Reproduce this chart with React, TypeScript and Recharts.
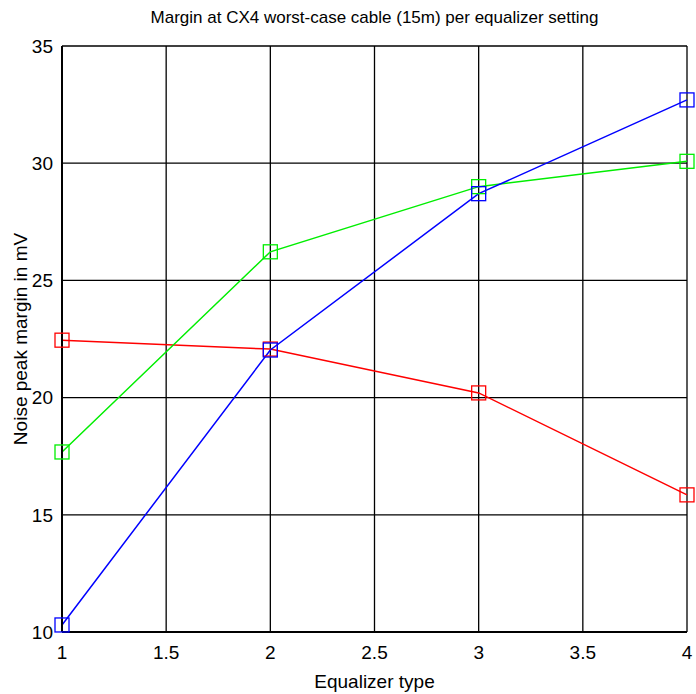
import { LineChart, Line, XAxis, YAxis, CartesianGrid, Label } from "recharts";

// equalizer settings on the x axis
const equalizerTypes = [1, 2, 3, 4];
// noise peak margin (mV) per series
const redMargin = [22.45, 22.07, 20.2, 15.85];
const greenMargin = [17.68, 26.22, 29.0, 30.08];
const blueMargin = [10.3, 22.03, 28.7, 32.7];

const xTicks = [1, 1.5, 2, 2.5, 3, 3.5, 4];
const yTicks = [10, 15, 20, 25, 30, 35];

const data = equalizerTypes.map((eq, i) => ({
  eq,
  red: redMargin[i],
  green: greenMargin[i],
  blue: blueMargin[i],
}));

const FONT = "'Liberation Sans Narrow', 'Liberation Sans', Arial, sans-serif";

const squareDot = (color: string) => (props: any) => {
  const { cx, cy, index } = props;
  if (cx == null || cy == null) return <g key={index} />;
  return (
    <rect
      key={index}
      x={cx - 7}
      y={cy - 7}
      width={14}
      height={14}
      fill="none"
      stroke={color}
      strokeWidth={1.3}
    />
  );
};

export default function App() {
  return (
    <div style={{ position: "absolute", left: 0, top: 0, width: 696, height: 694, background: "#fff" }}>
      <div
        style={{
          position: "absolute",
          top: 8,
          left: 62,
          width: 625,
          textAlign: "center",
          fontFamily: FONT,
          fontSize: 17,
          color: "#000",
        }}
      >
        Margin at CX4 worst-case cable (15m) per equalizer setting
      </div>
      <LineChart
        width={696}
        height={694}
        data={data}
        margin={{ top: 46, right: 9, bottom: 0, left: 0 }}
      >
        <CartesianGrid stroke="#000" strokeWidth={1.3} horizontalValues={yTicks} verticalValues={xTicks} />
        <XAxis
          dataKey="eq"
          type="number"
          domain={[1, 4]}
          ticks={xTicks}
          height={62}
          stroke="#000"
          strokeWidth={2}
          tickLine={false}
          tickMargin={8}
          tick={{ fill: "#000", fontSize: 19, fontFamily: FONT }}
        >
          <Label
            value="Equalizer type"
            position="insideBottom"
            offset={6}
            style={{ fill: "#000", fontSize: 19, fontFamily: FONT }}
          />
        </XAxis>
        <YAxis
          type="number"
          domain={[10, 35]}
          ticks={yTicks}
          width={62}
          stroke="#000"
          strokeWidth={2}
          tickLine={false}
          tickMargin={3}
          tick={{ fill: "#000", fontSize: 19, fontFamily: FONT }}
        >
          <Label
            value="Noise peak margin in mV"
            angle={-90}
            position="insideLeft"
            offset={20}
            style={{ fill: "#000", fontSize: 19, fontFamily: FONT, textAnchor: "middle" }}
          />
        </YAxis>
        <Line
          dataKey="red"
          stroke="#ff0000"
          strokeWidth={1.5}
          dot={squareDot("#ff0000")}
          isAnimationActive={false}
        />
        <Line
          dataKey="green"
          stroke="#00ee00"
          strokeWidth={1.5}
          dot={squareDot("#00ee00")}
          isAnimationActive={false}
        />
        <Line
          dataKey="blue"
          stroke="#0000ff"
          strokeWidth={1.5}
          dot={squareDot("#0000ff")}
          isAnimationActive={false}
        />
      </LineChart>
    </div>
  );
}
